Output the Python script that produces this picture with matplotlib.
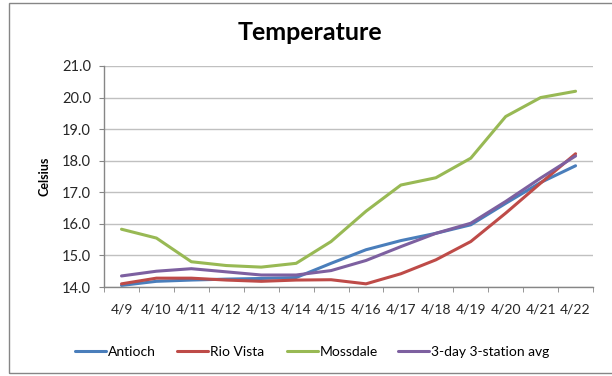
import matplotlib

matplotlib.use("Agg")
import matplotlib.pyplot as plt
from matplotlib.patches import Rectangle

plt.rcParams["font.family"] = ["Lato", "DejaVu Sans"]

dates = ["4/9", "4/10", "4/11", "4/12", "4/13", "4/14", "4/15",
         "4/16", "4/17", "4/18", "4/19", "4/20", "4/21", "4/22"]
antioch = [14.05, 14.18, 14.22, 14.25, 14.27, 14.30, 14.75,
           15.18, 15.47, 15.70, 15.97, 16.65, 17.31, 17.84]
rio_vista = [14.10, 14.28, 14.28, 14.22, 14.18, 14.22, 14.23,
             14.10, 14.42, 14.86, 15.44, 16.34, 17.29, 18.22]
mossdale = [15.83, 15.55, 14.80, 14.68, 14.63, 14.75, 15.44,
            16.40, 17.23, 17.46, 18.08, 19.40, 20.00, 20.20]
avg3 = [14.35, 14.50, 14.58, 14.48, 14.38, 14.38, 14.52,
        14.84, 15.28, 15.70, 16.02, 16.71, 17.45, 18.15]

series = [
    ("Antioch", antioch, "#4a7ebb"),
    ("Rio Vista", rio_vista, "#be4b48"),
    ("Mossdale", mossdale, "#98b954"),
    ("3-day 3-station avg", avg3, "#7d60a0"),
]
# left edge (px) of each legend entry, Excel-style even columns
legend_x = [75, 177, 287, 398]

fig = plt.figure(figsize=(6.12, 3.76), dpi=100)
ax = fig.add_axes([0.170, 0.2367, 0.799, 0.5878])

x = list(range(len(dates)))
lines = []
for label, values, color in series:
    (ln,) = ax.plot(x, values, color=color, linewidth=2.2, label=label,
                    solid_joinstyle="round", solid_capstyle="round")
    lines.append(ln)

ax.set_xlim(-0.5, len(dates) - 0.5)
ax.set_ylim(14.0, 21.0)
ax.set_yticks([14 + i for i in range(8)])
ax.set_yticklabels([f"{14 + i:.1f}" for i in range(8)])
ax.set_xticks(x)
ax.set_xticklabels(dates)
ax.set_xticks([i - 0.5 for i in range(len(dates) + 1)], minor=True)
ax.tick_params(axis="x", which="major", length=0, pad=12, labelsize=10, colors="#262626")
ax.tick_params(axis="x", which="minor", length=3.5, color="#868686", direction="out")
ax.tick_params(axis="y", length=3.5, color="#868686", pad=6, labelsize=10.5, labelcolor="#262626")

ax.grid(True, axis="y", color="#c0c0c0", linewidth=1.0)
ax.set_axisbelow(True)
for side in ("top", "right"):
    ax.spines[side].set_visible(False)
for side in ("left", "bottom"):
    ax.spines[side].set_color("#868686")
    ax.spines[side].set_linewidth(1.0)

ax.set_ylabel("Celsius", fontsize=9, fontweight="bold", labelpad=8)
fig.text(0.507, 1 - 40 / 376, "Temperature", ha="center", va="baseline",
         fontsize=18, fontweight="bold")

for ln, x0 in zip(lines, legend_x):
    leg = fig.legend(handles=[ln], loc="center left",
                     bbox_to_anchor=(x0 / 612, 1 - 352 / 376), frameon=False,
                     fontsize=10, handlelength=2.2, handletextpad=0.15,
                     borderpad=0, borderaxespad=0)

fig.patches.append(Rectangle((9 / 612, 3 / 376), 1.0, 370 / 376,
                             transform=fig.transFigure, fill=False,
                             edgecolor="#868686", linewidth=1.0))

fig.savefig("out.png", dpi=100)
